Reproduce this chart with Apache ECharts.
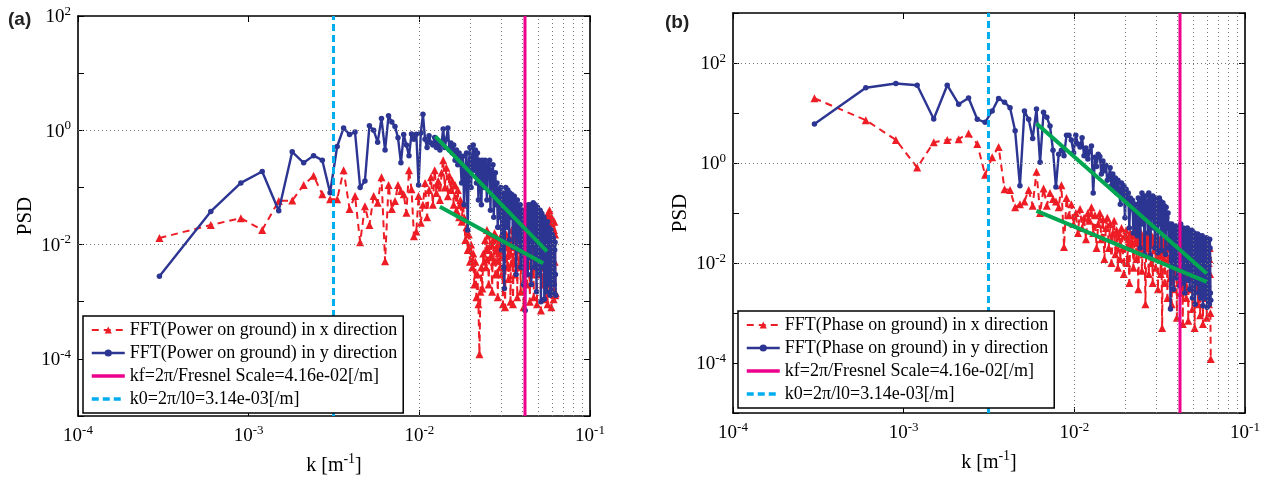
<!DOCTYPE html>
<html><head><meta charset="utf-8">
<script src="https://cdn.jsdelivr.net/npm/echarts@6/dist/echarts.min.js"></script>
<style>html,body{margin:0;padding:0;background:#fff}#c{width:1275px;height:481px}</style>
</head><body><div id="c"></div>
<script>
// wavenumber step: k_n = n * dk
const dk = 3e-4;

// Panel (a): FFT(Power on ground), y direction
const powerYdir = [
2.8e-3,0.038,0.12,0.19,0.039,0.42,0.27,0.36,0.30,0.081,
0.52,1.1,0.84,0.93,0.10,0.13,1.2,1.0,0.62,1.6,
0.45,1.8,1.4,1.17,0.74,0.27,0.84,0.55,0.36,0.86,
0.70,0.85,0.11,0.9,1.9,0.7,0.5,0.8,0.6,0.55,
0.75,0.5,0.65,0.45,0.6,1.05,0.5,0.7,1.1,0.45,
0.6,0.4,0.55,0.3,0.45,0.25,0.4,0.3,0.12,0.35,
0.05,0.2,0.4,0.018,0.25,0.5,0.1,0.3,0.55,0.2,
0.45,0.12,0.4,0.06,0.3,0.2,0.05,0.3,0.25,0.1,
0.3,0.18,0.06,0.25,0.15,0.3,0.04,0.2,0.12,0.25,
0.03,0.1,0.18,0.05,0.12,0.02,0.02,0.09,0.03,0.1,
0.008,0.06,0.08,0.004,0.0017,0.05,0.1,0.07,0.02,0.09,
0.05,0.012,0.08,0.06,0.03,0.075,0.04,0.009,0.06,0.07,
0.015,0.05,0.003,0.04,0.06,0.02,0.045,0.008,0.03,0.05,
0.004,0.025,0.04,0.01,0.035,0.002,0.03,0.04,0.0007,0.03,
0.008,0.045,0.025,0.003,0.05,0.035,0.006,0.04,0.05,0.02,
0.002,0.045,0.03,0.01,0.054,0.035,0.004,0.03,0.05,0.04,
0.015,0.0015,0.03,0.045,0.02,0.003,0.035,0.025,0.008,0.04,
0.03,0.001,0.02,0.035,0.012,0.028,0.004,0.02,0.03,0.0011,
0.015,0.025,0.006,0.02,0.009,0.0015,0.018,0.025,0.005,0.012,
0.02,0.002,0.015,0.008,0.0013,0.01,0.018,0.004,0.012,0.015,
0.0014,0.009,0.013,0.005,0.01,0.002,0.008,0.011,0.003,0.0013
];
// Panel (a): FFT(Power on ground), x direction
const powerXdir = [
0.013,0.022,0.029,0.018,0.058,0.059,0.11,0.16,0.076,0.062,
0.062,0.20,0.042,0.071,0.011,0.047,0.022,0.071,0.054,0.15,
0.0051,0.11,0.042,0.058,0.11,0.087,0.076,0.036,0.20,0.093,
0.014,0.017,0.071,0.024,0.05,0.12,0.03,0.09,0.15,0.05,
0.2,0.08,0.13,0.06,0.18,0.3,0.1,0.22,0.07,0.16,
0.09,0.13,0.05,0.11,0.04,0.09,0.03,0.06,0.025,0.05,
0.03,0.012,0.02,0.008,0.015,0.005,0.01,0.004,0.007,0.002,
0.005,0.0012,0.003,0.0009,0.00012,0.0015,0.004,0.0017,0.007,0.005,
0.012,0.004,0.018,0.008,0.002,0.015,0.006,0.01,0.0015,0.012,
0.005,0.016,0.003,0.009,0.013,0.0012,0.007,0.011,0.004,0.014,
0.003,0.008,0.0009,0.012,0.006,0.0008,0.01,0.015,0.004,0.009,
0.0025,0.013,0.007,0.001,0.011,0.018,0.005,0.0009,0.01,0.014,
0.003,0.009,0.02,0.006,0.0012,0.015,0.011,0.004,0.02,0.008,
0.0015,0.018,0.025,0.007,0.012,0.0008,0.03,0.015,0.005,0.022,
0.04,0.009,0.002,0.03,0.018,0.006,0.035,0.001,0.02,0.045,
0.012,0.003,0.03,0.05,0.008,0.0012,0.025,0.04,0.015,0.004,
0.03,0.02,0.0009,0.035,0.01,0.025,0.003,0.04,0.018,0.006,
0.028,0.0007,0.02,0.035,0.008,0.015,0.002,0.03,0.012,0.004,
0.025,0.01,0.0011,0.02,0.03,0.006,0.015,0.0009,0.035,0.012,
0.004,0.025,0.04,0.008,0.002,0.02,0.015,0.0008,0.03,0.01,
0.003,0.02,0.012,0.0011,0.018,0.025,0.005,0.015,0.0013,0.0014
];

// Panel (b): FFT(Phase on ground), y direction
const phaseYdir = [
6.0,32,39,36,7.6,36,15,20,7.5,6.5,
11,19.6,16.5,12.8,4.4,0.35,11,7.5,3.1,12,
1.03,10.3,8.2,5.5,1.8,0.33,1.5,1.8,1.4,3.6,
3.6,2.9,1.6,3.6,2.4,2.1,3.2,1.4,2.0,1.2,
1.7,2.2,0.25,1.3,0.85,1.5,1.35,0.6,1.1,0.7,
0.9,0.45,0.54,0.8,0.35,0.6,0.3,0.5,0.25,0.45,
0.3,0.15,0.4,0.2,0.35,0.08,0.3,0.18,0.25,0.05,
0.2,0.12,0.18,0.04,0.1,0.15,0.05,0.035,0.2,0.15,
0.02,0.18,0.25,0.06,0.2,0.015,0.22,0.12,0.16,0.04,
0.25,0.18,0.014,0.2,0.1,0.22,0.05,0.16,0.02,0.2,
0.13,0.18,0.016,0.15,0.2,0.06,0.17,0.018,0.12,0.16,
0.04,0.14,0.1,0.015,0.13,0.08,0.05,0.1,0.02,0.06,
0.03,0.0012,0.04,0.06,0.01,0.05,0.003,0.045,0.03,0.008,
0.055,0.04,0.005,0.03,0.05,0.012,0.04,0.0035,0.03,0.06,
0.02,0.045,0.004,0.035,0.05,0.015,0.04,0.0025,0.03,0.045,
0.008,0.04,0.05,0.0045,0.03,0.02,0.045,0.003,0.035,0.04,
0.01,0.03,0.045,0.002,0.035,0.025,0.006,0.04,0.03,0.0015,
0.025,0.035,0.008,0.03,0.004,0.038,0.02,0.0025,0.03,0.035,
0.01,0.025,0.002,0.03,0.02,0.005,0.035,0.025,0.0014,0.02,
0.03,0.006,0.025,0.002,0.03,0.02,0.004,0.032,0.015,0.0013,
0.025,0.02,0.003,0.028,0.012,0.0015,0.03,0.02,0.0025,0.0018
];
// Panel (b): FFT(Phase on ground), x direction
const phaseXdir = [
19.7,7.2,2.9,0.81,2.6,2.9,3.0,3.9,2.4,0.58,
1.3,2.1,0.30,0.29,0.13,0.15,0.17,0.29,0.14,0.67,
0.10,0.31,0.14,0.25,0.19,0.17,0.13,0.36,0.021,0.2,
0.09,0.15,0.06,0.1,0.04,0.12,0.05,0.08,0.03,0.1,
0.07,0.13,0.04,0.09,0.02,0.06,0.1,0.03,0.075,0.012,
0.05,0.08,0.02,0.06,0.01,0.04,0.07,0.015,0.045,0.008,
0.04,0.012,0.05,0.02,0.006,0.035,0.045,0.01,0.03,0.004,
0.04,0.02,0.035,0.008,0.025,0.045,0.012,0.03,0.003,0.035,
0.02,0.04,0.007,0.03,0.015,0.025,0.0015,0.03,0.02,0.035,
0.006,0.025,0.04,0.01,0.03,0.004,0.025,0.018,0.035,0.008,
0.02,0.03,0.003,0.025,0.015,0.03,0.006,0.02,0.0005,0.025,
0.012,0.03,0.004,0.02,0.015,0.025,0.002,0.02,0.012,0.03,
0.005,0.02,0.015,0.0015,0.025,0.01,0.02,0.003,0.018,0.006,
0.022,0.012,0.0008,0.02,0.015,0.004,0.025,0.01,0.018,0.0025,
0.02,0.008,0.015,0.0006,0.02,0.012,0.025,0.004,0.015,0.01,
0.002,0.02,0.012,0.018,0.0007,0.015,0.022,0.005,0.012,0.018,
0.003,0.02,0.01,0.0012,0.015,0.022,0.006,0.012,0.0005,0.018,
0.01,0.02,0.003,0.015,0.008,0.025,0.0015,0.012,0.018,0.004,
0.015,0.0009,0.02,0.01,0.025,0.003,0.012,0.018,0.0006,0.015,
0.02,0.005,0.012,0.025,0.002,0.015,0.008,0.02,0.0008,0.012,
0.018,0.004,0.015,0.01,0.0015,0.012,0.02,0.006,0.001,0.00012
];

// reference wavenumbers
const kf = 4.16e-2;
const k0 = 3.14e-3;
// fitted slopes (endpoints [k, PSD])
const fitA1 = [[0.0124, 0.78], [0.056, 7.6e-3]];
const fitA2 = [[0.0132, 0.046], [0.0532, 4.7e-3]];
const fitB1 = [[6.0e-3, 6.2], [0.0597, 6.2e-3]];
const fitB2 = [[6.0e-3, 0.11], [0.0597, 4.2e-3]];

// axis ranges & grid values
const xRange = [1e-4, 1e-1];
const yRangeA = [1e-5, 1e2];
const yRangeB = [1e-5, 1e3];
const xGridDecades = [1e-4, 1e-3, 1e-2];
const xGridMult = [1, 2, 3, 4, 5, 6, 7, 8, 9];
const yGridA = [1e0, 1e-2, 1e-4];
const yGridB = [1e2, 1e0, 1e-2, 1e-4];

const legA = ['FFT(Power on ground) in x direction', 'FFT(Power on ground) in y direction'];
const legB = ['FFT(Phase on ground) in x direction', 'FFT(Phase on ground) in y direction'];
const kfName = 'kf=2\u03c0/Fresnel Scale=4.16e-02[/m]';
const k0Name = 'k0=2\u03c0/l0=3.14e-03[/m]';

const SERIF = 'Liberation Serif';
const RED = '#ee1c25', BLUE = '#2c3592', PINK = '#ec008c', CYAN = '#00aeef', GREEN = '#00a651';

function pairs(arr) { return arr.map((v, i) => [(i + 1) * dk, v]); }

const RICH = {
  b: { fontFamily: SERIF, fontSize: 19, color: '#000', lineHeight: 22, verticalAlign: 'bottom' },
  s: { fontFamily: SERIF, fontSize: 13, color: '#000', lineHeight: 8, verticalAlign: 'top' }
};
const NAMERICH = {
  b: { fontFamily: SERIF, fontSize: 20, color: '#000', lineHeight: 24, verticalAlign: 'bottom' },
  s: { fontFamily: SERIF, fontSize: 14, color: '#000', lineHeight: 10, verticalAlign: 'top' }
};
function sup(v, evenOnly) {
  const l = Math.log10(v);
  const e = Math.round(l);
  if (Math.abs(l - e) > 1e-6) return '';
  if (evenOnly && e % 2 !== 0) return '';
  return '{b|10}{s|' + e + '}';
}

function xAx(g, pos, main) {
  return {
    type: 'log', logBase: 10, gridIndex: g, position: pos, min: xRange[0], max: xRange[1],
    axisLine: { show: true, onZero: false, lineStyle: { color: '#000', width: 1.6 } },
    axisTick: { show: true, inside: true, length: 6, lineStyle: { color: '#000', width: 1 } },
    splitLine: { show: false },
    axisLabel: { show: main, margin: 8, fontFamily: SERIF, formatter: v => sup(v, false), rich: RICH },
    name: main ? '{b|k [m}{s|-1}{b|]}' : '', nameLocation: 'middle', nameGap: 36,
    nameTextStyle: { fontFamily: SERIF, rich: NAMERICH }
  };
}
function yAx(g, pos, main, range) {
  return {
    type: 'log', logBase: 10, gridIndex: g, position: pos, min: range[0], max: range[1],
    axisLine: { show: true, onZero: false, lineStyle: { color: '#000', width: 1.6 } },
    axisTick: { show: true, inside: true, length: 6, lineStyle: { color: '#000', width: 1 } },
    splitLine: { show: false },
    axisLabel: { show: main, margin: 7, fontFamily: SERIF, formatter: v => sup(v, true), rich: RICH },
    name: main ? 'PSD' : '', nameLocation: 'middle', nameGap: 42,
    nameTextStyle: { fontFamily: SERIF, fontSize: 21, color: '#000' }
  };
}

function gridSeries(ax, yGrid) {
  const lines = [];
  xGridDecades.forEach(d => xGridMult.forEach(m => {
    const v = m * d;
    if (v > xRange[0] * 1.0001) lines.push({ xAxis: v });
  }));
  yGrid.forEach(v => lines.push({ yAxis: v }));
  return {
    type: 'line', xAxisIndex: ax, yAxisIndex: ax, data: [], z: 1, silent: true,
    markLine: { silent: true, symbol: 'none', animation: false, label: { show: false },
      lineStyle: { color: '#777', width: 1, type: [1, 3] }, data: lines }
  };
}
function redS(name, ax, d) {
  return { name, type: 'line', xAxisIndex: ax, yAxisIndex: ax, data: pairs(d), z: 3,
    symbol: 'triangle', symbolSize: 8, showAllSymbol: true,
    lineStyle: { color: RED, width: 2, type: [7, 5] }, itemStyle: { color: RED } };
}
function blueS(name, ax, d) {
  return { name, type: 'line', xAxisIndex: ax, yAxisIndex: ax, data: pairs(d), z: 4,
    symbol: 'circle', symbolSize: 5.5, showAllSymbol: true,
    lineStyle: { color: BLUE, width: 2.4 }, itemStyle: { color: BLUE } };
}
function vline(name, ax, k, yr, color, type) {
  return { name, type: 'line', xAxisIndex: ax, yAxisIndex: ax, data: [[k, yr[0]], [k, yr[1]]], z: 5,
    symbol: 'none', lineStyle: { color, width: 3, type }, itemStyle: { color } };
}
function fit(ax, d) {
  return { type: 'line', xAxisIndex: ax, yAxisIndex: ax, data: d, z: 6, symbol: 'none',
    lineStyle: { color: GREEN, width: 4 }, itemStyle: { color: GREEN } };
}
function legend(left, top, names) {
  return {
    left, top, orient: 'vertical', z: 20, selectedMode: false,
    itemWidth: 33, itemHeight: 9, itemGap: 5,
    padding: [5, 6, 5, 7], borderColor: '#000', borderWidth: 1.5, backgroundColor: '#fff',
    textStyle: { fontFamily: SERIF, fontSize: 18, color: '#000', lineHeight: 18 },
    data: [
      { name: names[0], lineStyle: { width: 2 } },
      { name: names[1], lineStyle: { width: 2.4 } },
      { name: kfName, itemStyle: { opacity: 0 }, lineStyle: { width: 3.5 } },
      { name: k0Name, itemStyle: { opacity: 0 }, lineStyle: { width: 3.5 } }
    ]
  };
}

const chart = echarts.init(document.getElementById('c'), null, { renderer: 'canvas' });
chart.setOption({
  animation: false,
  backgroundColor: '#fff',
  textStyle: { fontFamily: SERIF },
  grid: [
    { left: 78, top: 16, width: 512, height: 401 },
    { left: 733, top: 13, width: 512, height: 400 }
  ],
  xAxis: [xAx(0, 'bottom', true), xAx(0, 'top', false), xAx(1, 'bottom', true), xAx(1, 'top', false)],
  yAxis: [yAx(0, 'left', true, yRangeA), yAx(0, 'right', false, yRangeA), yAx(1, 'left', true, yRangeB), yAx(1, 'right', false, yRangeB)],
  legend: [
    legend(83, 316, legA),
    legend(738, 311, legB)
  ],
  graphic: [
    { type: 'text', left: 8, top: 10, style: { text: '(a)', font: "bold 19px 'Liberation Sans', Arial, sans-serif", fill: '#222' } },
    { type: 'text', left: 665, top: 13, style: { text: '(b)', font: "bold 19px 'Liberation Sans', Arial, sans-serif", fill: '#222' } }
  ],
  series: [
    gridSeries(0, yGridA),
    redS(legA[0], 0, powerXdir),
    blueS(legA[1], 0, powerYdir),
    vline(kfName, 0, kf, yRangeA, PINK, 'solid'),
    vline(k0Name, 0, k0, yRangeA, CYAN, [7, 4]),
    fit(0, fitA1), fit(0, fitA2),
    gridSeries(2, yGridB),
    redS(legB[0], 2, phaseXdir),
    blueS(legB[1], 2, phaseYdir),
    vline(kfName, 2, kf, yRangeB, PINK, 'solid'),
    vline(k0Name, 2, k0, yRangeB, CYAN, [7, 4]),
    fit(2, fitB1), fit(2, fitB2)
  ]
});
</script>
</body></html>
